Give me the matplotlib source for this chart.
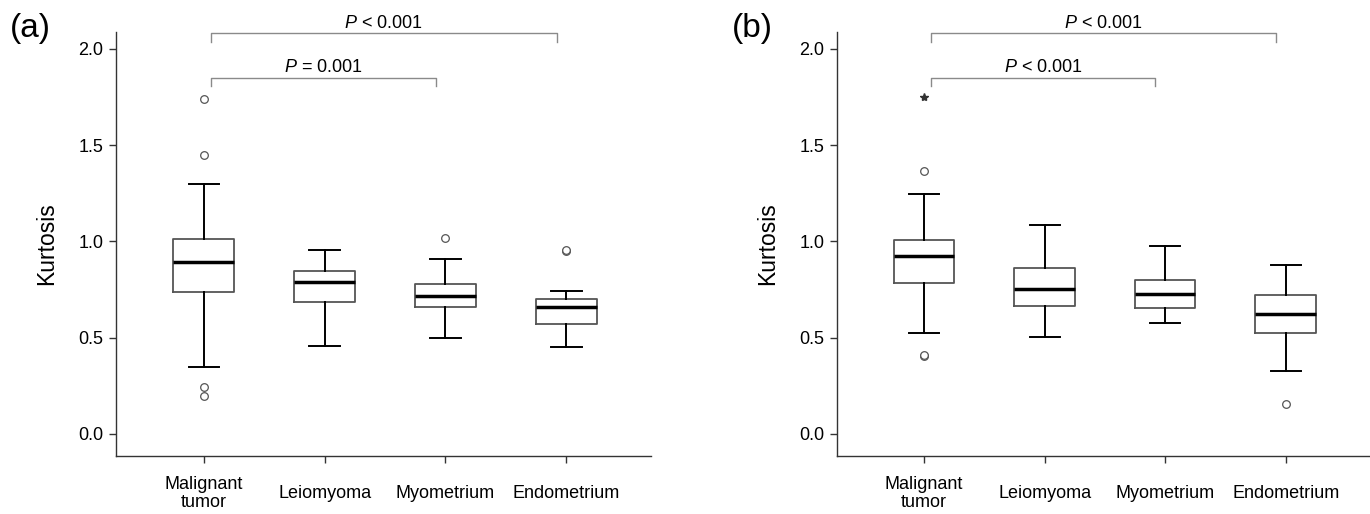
import matplotlib
matplotlib.use("Agg")
import matplotlib.pyplot as plt

plt.rcParams["font.family"] = ["Liberation Sans", "DejaVu Sans"]
plt.rcParams["mathtext.fontset"] = "custom"
plt.rcParams["mathtext.it"] = "Liberation Sans:italic"
plt.rcParams["mathtext.rm"] = "Liberation Sans"

groups = ["Malignant\ntumor", "Leiomyoma", "Myometrium", "Endometrium"]

# panel (a)
a_whislo = [0.345, 0.457, 0.500, 0.450]
a_q1 = [0.736, 0.683, 0.658, 0.570]
a_med = [0.893, 0.790, 0.715, 0.657]
a_q3 = [1.010, 0.847, 0.778, 0.698]
a_whishi = [1.300, 0.953, 0.908, 0.743]
a_fliers = [[1.740, 1.448, 0.244, 0.196], [], [1.017], [0.950, 0.956]]
a_extremes = [[], [], [], []]
a_pvals = ["$P$ = 0.001", "$P$ < 0.001"]

# panel (b)
b_whislo = [0.523, 0.502, 0.575, 0.327]
b_q1 = [0.783, 0.665, 0.655, 0.521]
b_med = [0.925, 0.753, 0.724, 0.622]
b_q3 = [1.005, 0.859, 0.800, 0.719]
b_whishi = [1.247, 1.086, 0.977, 0.878]
b_fliers = [[1.363, 0.403, 0.409], [], [], [0.153]]
b_extremes = [[1.748], [], [], []]
b_pvals = ["$P$ < 0.001", "$P$ < 0.001"]

# comparisons: (first group, second group, bracket height)
pairs = [(0, 2, 1.850), (0, 3, 2.083)]

fig = plt.figure(figsize=(13.7, 5.14), dpi=100)
axA = fig.add_axes([0.0847, 0.1138, 0.3905, 0.8239])
axB = fig.add_axes([0.6107, 0.1138, 0.3893, 0.8239])


def draw_panel(ax, whislo, q1, med, q3, whishi, fliers, extremes, pvals):
    stats = []
    for i in range(len(groups)):
        stats.append({"whislo": whislo[i], "q1": q1[i], "med": med[i],
                      "q3": q3[i], "whishi": whishi[i], "fliers": fliers[i]})
    ax.bxp(stats, positions=range(1, len(groups) + 1), widths=0.5,
           boxprops=dict(color="#555555", linewidth=1.3),
           medianprops=dict(color="black", linewidth=2.5),
           whiskerprops=dict(color="black", linewidth=1.4),
           capprops=dict(color="black", linewidth=1.4),
           flierprops=dict(marker="o", markersize=5.5, markerfacecolor="white",
                           markeredgecolor="#555555", markeredgewidth=0.9))
    for i, ext in enumerate(extremes):
        if ext:
            ax.plot([i + 1] * len(ext), ext, linestyle="none", marker="*",
                    markersize=6, color="#333333")

    for (g1, g2, h), txt in zip(pairs, pvals):
        x1 = g1 + 1 + 0.06
        x2 = g2 + 1 - 0.08
        ax.plot([x1, x1, x2, x2], [h - 0.046, h, h, h - 0.046],
                color="#8a8a8a", linewidth=1.0, clip_on=False)
        ax.text((x1 + x2) / 2, h + 0.027, txt, ha="center", va="baseline",
                fontsize=13, clip_on=False)

    ax.set_xlim(0.275, 4.70)
    ax.set_ylim(-0.113, 2.087)
    ax.set_yticks([0.0, 0.5, 1.0, 1.5, 2.0])
    ax.set_yticklabels(["0.0", "0.5", "1.0", "1.5", "2.0"])
    ax.set_xticks(range(1, len(groups) + 1))
    ax.set_xticklabels(groups, linespacing=1.1)
    for lab in ax.get_xticklabels():
        lab.set_verticalalignment("center")
    ax.tick_params(axis="x", length=5, width=1, color="#333333", pad=22.5,
                   labelsize=13)
    ax.tick_params(axis="y", length=5, width=1, color="#333333", pad=4,
                   labelsize=13)
    for s in ["top", "right"]:
        ax.spines[s].set_visible(False)
    for s in ["left", "bottom"]:
        ax.spines[s].set_color("#333333")
        ax.spines[s].set_linewidth(1.0)
    ax.set_ylabel("Kurtosis", fontsize=16.5)
    ax.yaxis.set_label_coords(-0.108, 0.5)


draw_panel(axA, a_whislo, a_q1, a_med, a_q3, a_whishi, a_fliers, a_extremes, a_pvals)
draw_panel(axB, b_whislo, b_q1, b_med, b_q3, b_whishi, b_fliers, b_extremes, b_pvals)

fig.text(0.007, 0.945, "(a)", fontsize=24, ha="left", va="center")
fig.text(0.534, 0.945, "(b)", fontsize=24, ha="left", va="center")

fig.savefig("out.png", dpi=100)
